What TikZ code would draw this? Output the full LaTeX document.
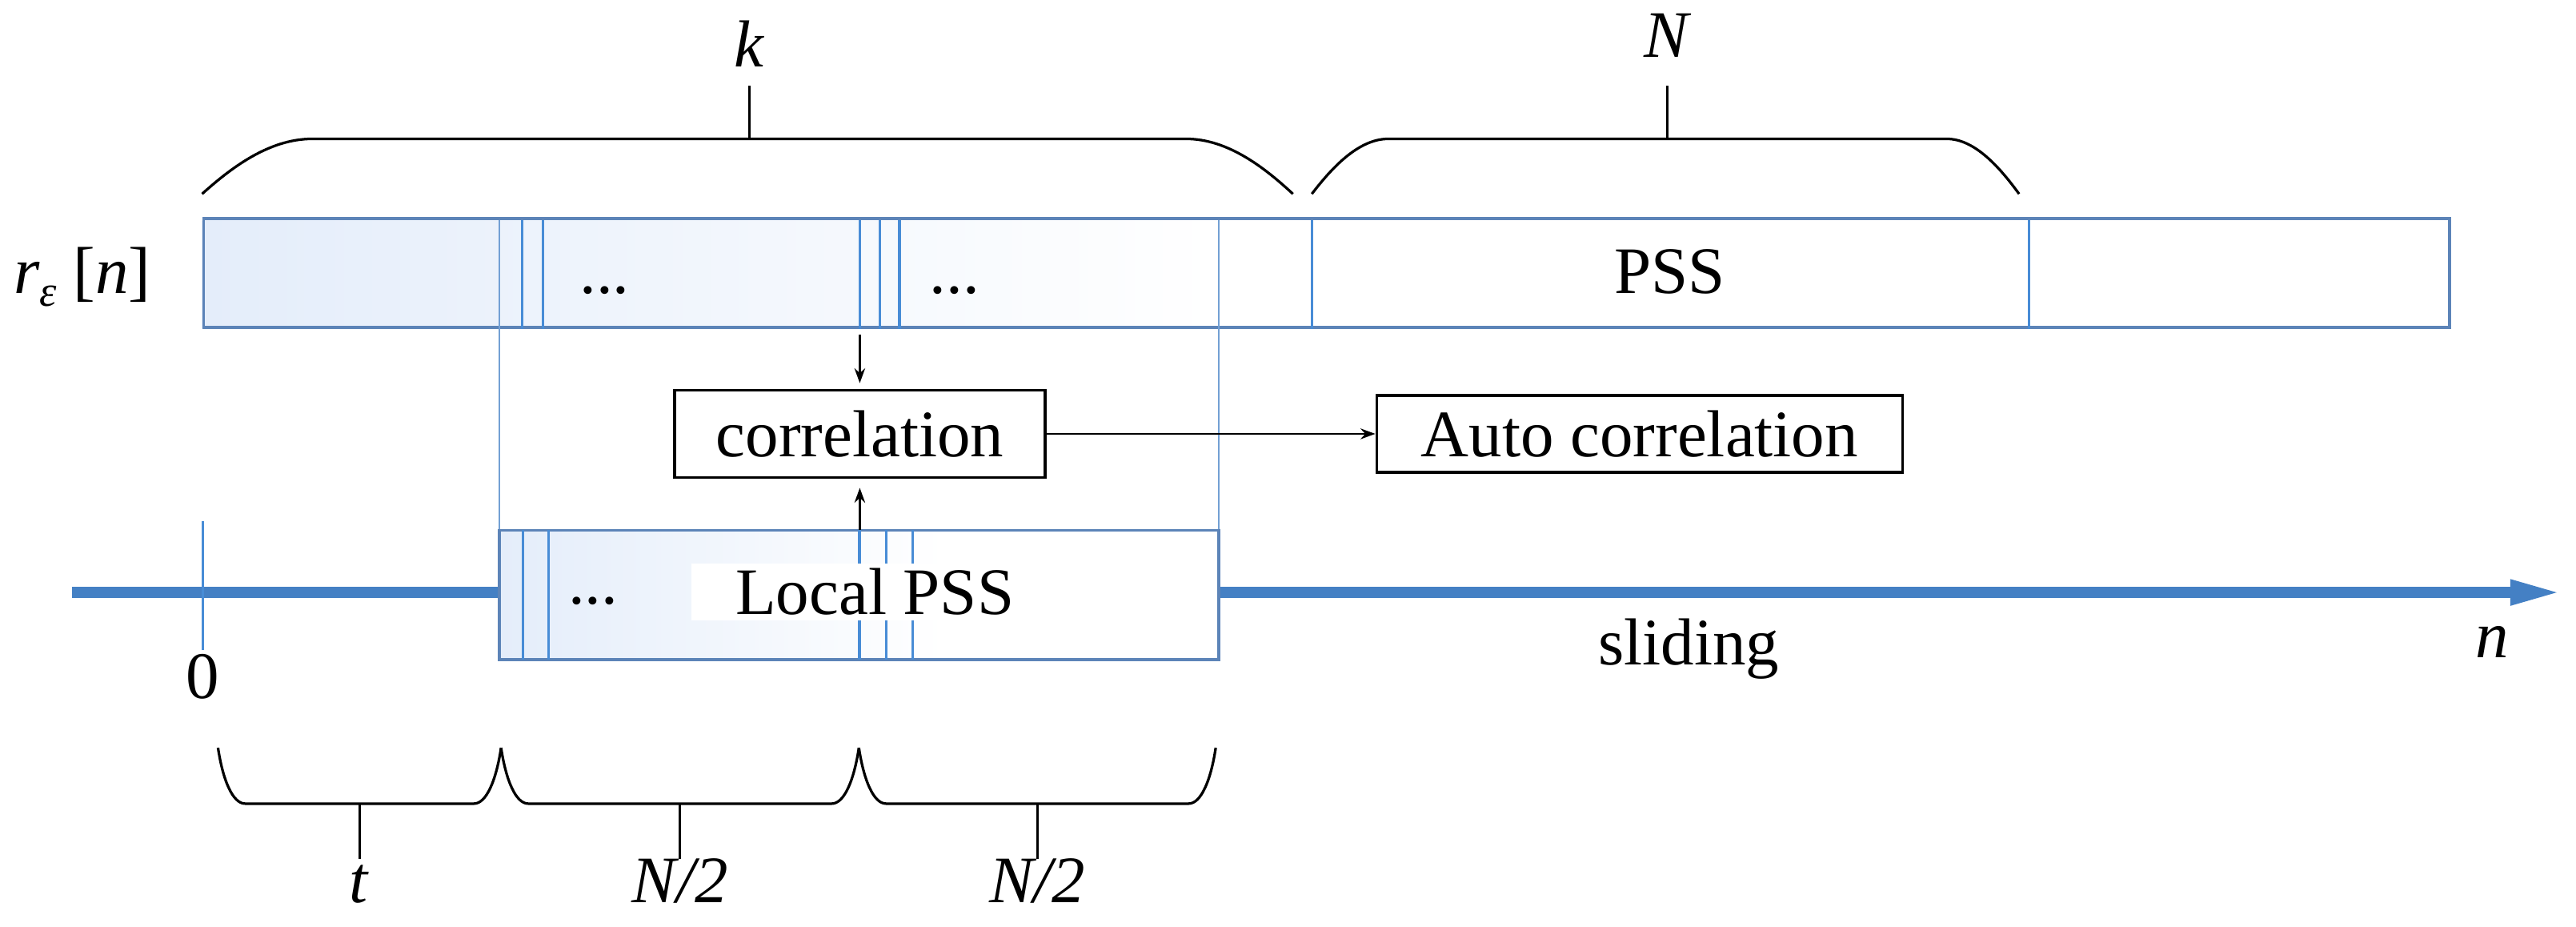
\documentclass[tikz,border=0pt]{standalone}
\usepackage{fontspec}
\setmainfont{Liberation Serif}
\usepackage{tikz}
\usetikzlibrary{arrows.meta,positioning}
\definecolor{axisblue}{RGB}{68,128,196}
\definecolor{barline}{RGB}{92,132,184}
\definecolor{segblue}{RGB}{72,140,214}
\definecolor{winblue}{RGB}{115,160,212}
\definecolor{barfill}{RGB}{228,237,250}

\begin{document}
\begin{tikzpicture}[
  font=\fontsize{23}{27}\selectfont,
  frame/.style={draw=barline,line width=1pt,inner sep=0pt},
  seg/.style={draw=segblue,line width=0.9pt},
  win/.style={draw=winblue,line width=0.6pt},
  box/.style={draw=black,line width=1pt,fill=white,inner sep=0pt},
  conn/.style={-{Stealth[length=1.8mm,width=1.3mm]},line width=0.8pt},
  brace/.style={line width=0.9pt},
  lbl/.style={inner sep=0pt}
]
  \useasboundingbox (0,0) rectangle (31.36,11.28);
  % Time axis
  \coordinate (axstart) at (0.875,4.07);
  \coordinate (axend) at (31.19,4.07);
  \draw[axisblue,line width=3.7pt,-{Triangle[length=0.63cm,width=0.28cm]}] (axstart) -- (axend);
  \draw[seg,line width=0.7pt] (2.47,4.94) -- (2.47,3.37);
  \node[lbl,anchor=base] (zero) at (2.47,2.78) {0};
  \node[lbl,anchor=base] (slide) at (20.56,3.19) {sliding};
  \node[lbl,anchor=base] (nlbl) at (30.34,3.28) {\textit{n}};
  % Received signal
  \shade[left color=barfill,right color=white] (2.46,7.28) rectangle (14.84,8.6);
  \node[frame,anchor=south west,minimum width=27.34cm,minimum height=1.32cm] (rbar) at (2.46,7.28) {};
  \foreach \x in {6.36,6.61,10.47,10.71,10.95,15.97,24.70}
    \draw[seg] (\x,7.28) -- (\x,8.6);
  \node[lbl,anchor=base] (dots1) at (7.36,7.71) {...};
  \node[lbl,anchor=base] (dots2) at (11.62,7.71) {...};
  \node[lbl,anchor=base] (pss) at (20.33,7.71) {PSS};
  \node[lbl,anchor=base east] (rsig) at (1.84,7.71) {\textit{r}\raisebox{-4.5pt}{\fontsize{15}{15}\selectfont\textit{ε}}\hspace{0.2cm}[\textit{n}]};
  % Sliding window
  \draw[win] (6.08,8.6) -- (6.08,4.826);
  \draw[win] (14.84,8.6) -- (14.84,4.826);
  \node[fill=white,inner sep=0pt,outer sep=0pt,anchor=south west,minimum width=8.76cm,minimum height=1.576cm] (loc) at (6.08,3.25) {};
  \shade[left color=barfill,right color=white] (6.08,3.25) rectangle (11.5,4.826);
  \draw[frame] (6.08,3.25) rectangle (14.84,4.826);
  \foreach \x in {6.364,6.676,10.464,10.786,11.114}
    \draw[seg] (\x,3.25) -- (\x,4.826);
  \node[fill=white,inner xsep=0.54cm,inner ysep=0.06cm,anchor=base] (loctxt) at (10.65,3.80) {Local PSS};
  \node[lbl,anchor=base] (locdots) at (7.22,3.93) {...};
  % Correlation blocks
  \node[box,minimum width=4.51cm,minimum height=1.06cm] (corr) at (10.467,6.0) {correlation};
  \node[box,minimum width=6.4cm,minimum height=0.93cm] (auto) at (19.96,6.0) {Auto correlation};
  \draw[conn,shorten <=0.07cm,shorten >=0.07cm] (rbar.south -| corr.north) -- (corr.north);
  \draw[conn,shorten >=0.11cm] (loc.north -| corr.south) -- (corr.south);
  \draw[conn] (corr.east) -- (auto.west);
  % Top braces
  \draw[brace] (2.46,8.92) .. controls (2.795,9.22) and (3.264,9.59) .. (3.8,9.59) -- (14.44,9.59)
    .. controls (14.96,9.59) and (15.415,9.22) .. (15.74,8.92);
  \draw[brace] (9.12,9.59) -- (9.12,10.24);
  \node[lbl,anchor=base] (klbl) at (9.12,10.47) {\textit{k}};
  \draw[brace] (15.97,8.92) .. controls (16.2,9.22) and (16.53,9.59) .. (16.9,9.59) -- (23.7,9.59)
    .. controls (24.05,9.59) and (24.36,9.22) .. (24.58,8.92);
  \draw[brace] (20.3,9.59) -- (20.3,10.24);
  \node[lbl,anchor=base] (Nlbl) at (20.3,10.58) {\textit{N}};
  % Bottom braces
  \foreach \a/\b/\lab [count=\i] in {2.654/6.1/t, 6.1/10.456/{N/2}, 10.456/14.8/{N/2}} {
    \draw[brace] (\a,2.18) .. controls ({\a+0.06},1.78) and ({\a+0.18},1.5) .. ({\a+0.33},1.5)
      -- ({\b-0.33},1.5) .. controls ({\b-0.18},1.5) and ({\b-0.06},1.78) .. (\b,2.18);
    \draw[brace] ({(\a+\b)/2},1.5) -- ({(\a+\b)/2},0.824);
    \node[lbl,anchor=base] (blbl\i) at ({(\a+\b)/2},0.30) {\textit{\lab}};
  }
\end{tikzpicture}
\end{document}
